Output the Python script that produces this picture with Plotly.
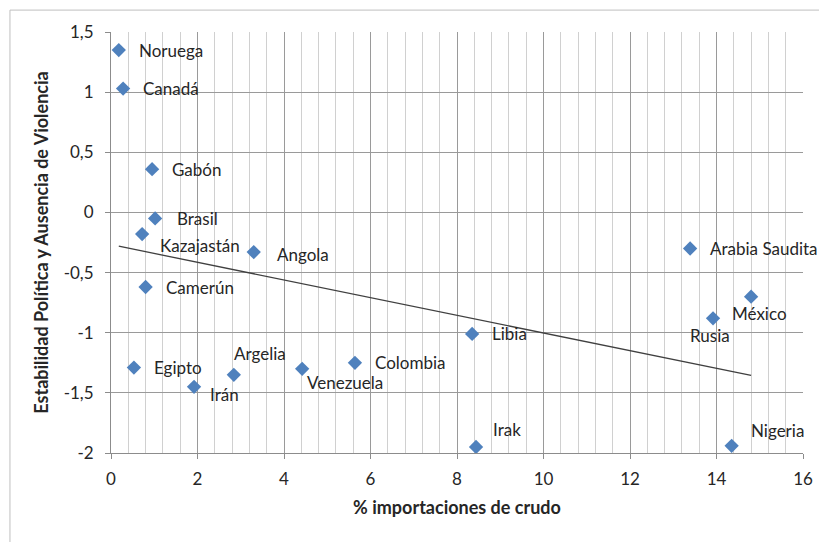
"""Estabilidad política vs % importaciones de crudo."""

import numpy as np
import plotly.graph_objects as go

countries = [
    "Noruega", "Canadá", "Gabón", "Brasil", "Kazajastán", "Angola", "Camerún",
    "Egipto", "Irán", "Argelia", "Venezuela", "Colombia", "Libia", "Irak",
    "Arabia Saudita", "Rusia", "México", "Nigeria",
]
imports_pct = [
    0.18, 0.28, 0.95, 1.02, 0.72, 3.30, 0.80,
    0.53, 1.92, 2.84, 4.42, 5.64, 8.35, 8.44,
    13.39, 13.92, 14.80, 14.35,
]
stability = [
    1.35, 1.03, 0.36, -0.05, -0.18, -0.33, -0.62,
    -1.29, -1.45, -1.35, -1.30, -1.25, -1.01, -1.95,
    -0.30, -0.88, -0.70, -1.94,
]
y_ticks = [1.5, 1, 0.5, 0, -0.5, -1, -1.5, -2]
y_tick_labels = ["1,5", "1", "0,5", "0", "-0,5", "-1", "-1,5", "-2"]

# label placement per point: (xanchor, xshift, yshift), default is right of the marker
placement = {
    "Kazajastán": ("left", 16, -11),
    "Angola": ("left", 21, -2),
    "Brasil": ("left", 20, 0),
    "Irán": ("left", 14, -8),
    "Argelia": ("left", -2, 21),
    "Venezuela": ("left", 3, -14),
    "Irak": ("left", 15, 17),
    "Rusia": ("center", -3, -17),
    "México": ("center", 8, -17),
    "Nigeria": ("left", 17, 15),
}

font = "Lato, 'Open Sans', sans-serif"
text_color = "#262626"
blue = "#4F81BD"

# linear trend
slope, intercept = np.polyfit(imports_pct, stability, 1)
trend_x = [min(imports_pct), max(imports_pct)]
trend_y = [intercept + slope * v for v in trend_x]

fig = go.Figure()
fig.add_trace(go.Scatter(
    x=trend_x, y=trend_y, mode="lines",
    line=dict(color="#404040", width=1.3), hoverinfo="skip",
))
fig.add_trace(go.Scatter(
    x=imports_pct, y=stability, mode="markers",
    marker=dict(symbol="diamond", size=11, color=blue),
))

for name, xv, yv in zip(countries, imports_pct, stability):
    xa, xs, ys = placement.get(name, ("left", 18, 0))
    fig.add_annotation(
        x=xv, y=yv, text=name, showarrow=False,
        xanchor=xa, yanchor="middle", xshift=xs, yshift=ys,
        font=dict(family=font, size=17, color=text_color),
    )

fig.update_layout(
    width=827, height=542,
    margin=dict(l=103, r=32, t=24, b=97),
    paper_bgcolor="white", plot_bgcolor="white",
    showlegend=False,
    font=dict(family=font, size=17, color=text_color),
    # chart frame: only the top and left edges are visible in the crop
    shapes=[dict(
        type="rect", xref="paper", yref="paper",
        x0=-0.146, x1=1.2, y0=-0.4, y1=1.052,
        line=dict(color="#BFBFBF", width=1),
    )],
)
fig.update_xaxes(
    range=[0, 16], dtick=2, tick0=0, automargin=False,
    showgrid=True, gridcolor="#9A9A9A", gridwidth=1,
    minor=dict(dtick=0.4, showgrid=True, gridcolor="#D0D0D0", gridwidth=1),
    showline=True, linecolor="#8C8C8C",
    ticks="outside", ticklen=5, tickcolor="#8C8C8C", ticklabelstandoff=6,
    zeroline=False,
    title=dict(text="<b>% importaciones de crudo</b>", font=dict(size=18), standoff=12),
)
fig.update_yaxes(
    range=[-2, 1.5], tickvals=y_ticks, ticktext=y_tick_labels, automargin=False,
    showgrid=True, gridcolor="#9A9A9A", gridwidth=1,
    showline=True, linecolor="#8C8C8C",
    ticks="outside", ticklen=5, tickcolor="#8C8C8C", ticklabelstandoff=8,
    zeroline=False,
    title=dict(text="<b>Estabilidad Política y Ausencia de Violencia</b>",
               font=dict(size=18), standoff=10),
)

fig.write_html("out.html")
